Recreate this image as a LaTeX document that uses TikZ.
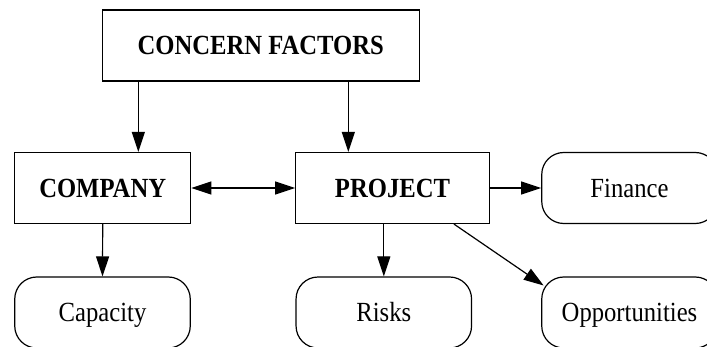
\documentclass[tikz,border=0pt]{standalone}
\usepackage{fontspec}
\setmainfont{Liberation Serif}[FakeStretch=0.89]
\usetikzlibrary{arrows.meta}
\begin{document}
\begin{tikzpicture}[x=1pt,y=-1pt,
  every node/.style={font=\fontsize{27.7}{32}\selectfont, inner sep=0pt, text height=18.3pt, text depth=0pt},
  mainbox/.style={draw, line width=1.2pt, minimum height=71pt, font=\fontsize{27.7}{32}\selectfont\bfseries},
  leafbox/.style={draw, line width=1.2pt, rounded corners=22pt, minimum height=71pt, minimum width=175.5pt},
  arr/.style={line width=1.2pt, -{Triangle[length=20pt,width=13pt]}},
  biarr/.style={line width=1.2pt, {Triangle[length=20pt,width=13pt]}-{Triangle[length=20pt,width=13pt]}}]
\useasboundingbox (0,0) rectangle (707,347);

% top level
\node[mainbox, minimum width=317pt] (cf) at (260.7,45.5) {CONCERN FACTORS};

% middle row
\node[mainbox, minimum width=176pt] (company) at (102.7,188) {COMPANY};
\node[mainbox, minimum width=193.6pt] (project) at (392.5,188) {PROJECT};
\node[leafbox] (finance) at (629.5,188) {Finance};

% bottom row
\node[leafbox] (capacity) at (102.5,312.5) {Capacity};
\node[leafbox] (risks) at (383.8,312.5) {Risks};
\node[leafbox] (opp) at (629.5,312.5) {Opportunities};

% columns for the vertical connectors
\coordinate (colA) at (138.3,0);
\coordinate (colB) at (348.3,0);
\coordinate (colC) at (454,0);

\draw[arr] (cf.south -| colA) -- (company.north -| colA);
\draw[arr] (cf.south -| colB) -- (project.north -| colB);
\draw[biarr] (company.east) -- (project.west);
\draw[arr] (project.east) -- (finance.west);
\draw[arr] (company.south) -- (capacity.north);
\draw[arr] (project.south -| risks.north) -- (risks.north);
\draw[arr, shorten >=-3pt] (project.south -| colC) -- (opp.162);
\end{tikzpicture}
\end{document}
